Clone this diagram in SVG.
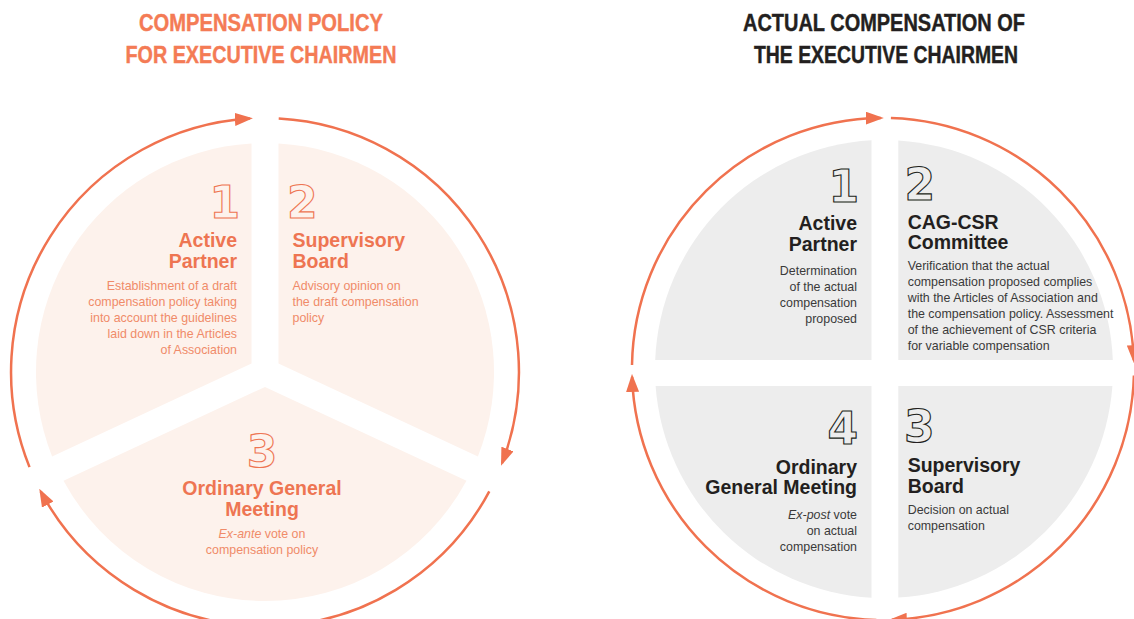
<svg xmlns="http://www.w3.org/2000/svg" width="1134" height="619" viewBox="0 0 1134 619">
<style>
text{font-family:"Liberation Sans",Arial,sans-serif}
.tl{font-size:23px;font-weight:bold;fill:#F47B55;stroke:#F47B55;stroke-width:0.4;text-anchor:middle}
.tr{font-size:23px;font-weight:bold;fill:#231F20;stroke:#231F20;stroke-width:0.4;text-anchor:middle}
.segL{fill:#FDF2EC}
.segR{fill:#EDEDED}
.numL{font-family:"DejaVu Sans",sans-serif;font-weight:bold;font-size:44px;fill:#FDF2EC;stroke:#EE7552;stroke-width:1.1}
.numR{font-family:"DejaVu Sans",sans-serif;font-weight:bold;font-size:44px;fill:#EDEDED;stroke:#231F20;stroke-width:1.1}
.hL{font-size:19.5px;font-weight:bold;fill:#EE7552}
.hR{font-size:19.5px;font-weight:bold;fill:#231F20}
.bL{font-size:12.4px;fill:#F08B69}
.bR{font-size:12.4px;fill:#3A3A3A}
.e{text-anchor:end}
.m{text-anchor:middle}
.arc{fill:none;stroke:#F0724F;stroke-width:2.5}
</style>
<defs>
<marker id="ah" viewBox="0 0 18 13" refX="15" refY="6.5" markerWidth="18" markerHeight="13" markerUnits="userSpaceOnUse" orient="auto">
<path d="M0,0 L18,6.5 L0,13 Z" fill="#F0724F"/>
</marker>
</defs>

<g id="title-left">
<text class="tl" x="261" y="31" textLength="244" lengthAdjust="spacingAndGlyphs">COMPENSATION POLICY</text>
<text class="tl" x="261" y="63" textLength="271" lengthAdjust="spacingAndGlyphs">FOR EXECUTIVE CHAIRMEN</text>
</g>
<g id="title-right">
<text class="tr" x="884" y="31" textLength="282" lengthAdjust="spacingAndGlyphs">ACTUAL COMPENSATION OF</text>
<text class="tr" x="886" y="63" textLength="264" lengthAdjust="spacingAndGlyphs">THE EXECUTIVE CHAIRMEN</text>
</g>

<g id="connectors">
<path class="arc" marker-end="url(#ah)" d="M29.5,467.1 A254 254 0 0 1 249.9,118.5"/>
<path class="arc" marker-end="url(#ah)" d="M278.7,118.4 A254 254 0 0 1 502.1,463"/>
<path class="arc" marker-end="url(#ah)" d="M489.3,491.3 A254 254 0 0 1 40.7,491.3"/>
<path class="arc" marker-end="url(#ah)" d="M632,365.1 A251 251 0 0 1 880.8,118"/>
<path class="arc" marker-end="url(#ah)" d="M890.9,118.1 A251 251 0 0 1 1133.8,360.2"/>
<path class="arc" marker-end="url(#ah)" d="M1133.9,375.6 A251 251 0 0 1 891.8,619.8"/>
<path class="arc" marker-end="url(#ah)" d="M876.4,619.9 A251 251 0 0 1 632.1,376.9"/>
</g>

<g id="left-1">
<path class="segL" d="M251.5,363.4 L251.5,143.4 A229 229 0 0 0 52.1,456.4 Z"/>
<text class="numL e" x="240" y="218">1</text>
<text class="hL e" x="237" y="247">Active</text>
<text class="hL e" x="237" y="267.5">Partner</text>
<text class="bL e" x="237" y="290">Establishment of a draft</text>
<text class="bL e" x="237" y="306">compensation policy taking</text>
<text class="bL e" x="237" y="322">into account the guidelines</text>
<text class="bL e" x="237" y="338">laid down in the Articles</text>
<text class="bL e" x="237" y="354">of Association</text>
</g>

<g id="left-2">
<path class="segL" d="M278.5,363.4 L278.5,143.4 A229 229 0 0 1 477.9,456.4 Z"/>
<text class="numL" x="287" y="218">2</text>
<text class="hL" x="292.5" y="247">Supervisory</text>
<text class="hL" x="292.5" y="267.5">Board</text>
<text class="bL" x="292.5" y="290">Advisory opinion on</text>
<text class="bL" x="292.5" y="306">the draft compensation</text>
<text class="bL" x="292.5" y="322">policy</text>
</g>

<g id="left-3">
<path class="segL" d="M265,386.9 L63.5,480.8 A229 229 0 0 0 466.5,480.8 Z"/>
<text class="numL m" x="262" y="467">3</text>
<text class="hL m" x="262" y="495">Ordinary General</text>
<text class="hL m" x="262" y="516">Meeting</text>
<text class="bL m" x="262" y="538"><tspan font-style="italic">Ex-ante</tspan> vote on</text>
<text class="bL m" x="262" y="553.5">compensation policy</text>
</g>

<g id="right-1">
<path class="segR" d="M871.5,360 L871.5,140.3 A229 229 0 0 0 655.2,360 Z"/>
<text class="numR e" x="859" y="202">1</text>
<text class="hR e" x="857" y="230">Active</text>
<text class="hR e" x="857" y="250.5">Partner</text>
<text class="bR e" x="857" y="275">Determination</text>
<text class="bR e" x="857" y="291">of the actual</text>
<text class="bR e" x="857" y="307">compensation</text>
<text class="bR e" x="857" y="323">proposed</text>
</g>

<g id="right-2">
<path class="segR" d="M898.3,360 L898.3,140.4 A229 229 0 0 1 1112.8,360 Z"/>
<text class="numR" x="904.5" y="200">2</text>
<text class="hR" x="907.7" y="228.5">CAG-CSR</text>
<text class="hR" x="907.7" y="249">Committee</text>
<text class="bR" x="907.7" y="270">Verification that the actual</text>
<text class="bR" x="907.7" y="286">compensation proposed complies</text>
<text class="bR" x="907.7" y="302">with the Articles of Association and</text>
<text class="bR" x="907.7" y="318">the compensation policy. Assessment</text>
<text class="bR" x="907.7" y="334">of the achievement of CSR criteria</text>
<text class="bR" x="907.7" y="350">for variable compensation</text>
</g>

<g id="right-3">
<path class="segR" d="M898.3,386 L898.3,597.6 A229 229 0 0 0 1112.4,386 Z"/>
<text class="numR" x="904" y="442">3</text>
<text class="hR" x="907.7" y="472">Supervisory</text>
<text class="hR" x="907.7" y="492.5">Board</text>
<text class="bR" x="907.7" y="514">Decision on actual</text>
<text class="bR" x="907.7" y="530">compensation</text>
</g>

<g id="right-4">
<path class="segR" d="M871.5,386 L655.6,386 A229 229 0 0 0 871.5,597.7 Z"/>
<text class="numR e" x="858" y="443.5">4</text>
<text class="hR e" x="857" y="473.5">Ordinary</text>
<text class="hR e" x="857" y="494">General Meeting</text>
<text class="bR e" x="857" y="518.5"><tspan font-style="italic">Ex-post</tspan> vote</text>
<text class="bR e" x="857" y="534.5">on actual</text>
<text class="bR e" x="857" y="550.5">compensation</text>
</g>
</svg>
